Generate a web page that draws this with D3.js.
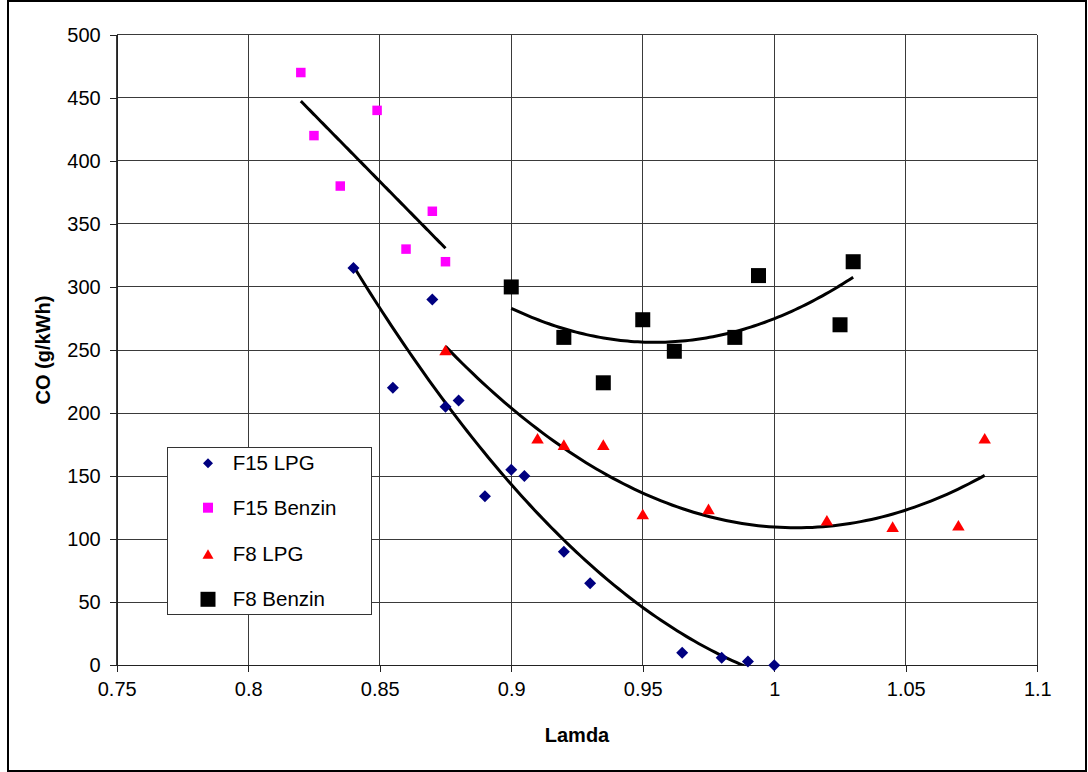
<!DOCTYPE html>
<html>
<head>
<meta charset="utf-8">
<script src="https://cdn.jsdelivr.net/npm/d3@7"></script>
<style>
  html, body { margin: 0; padding: 0; background: #fff; }
  svg { display: block; }
  text { font-family: "Liberation Sans", Arial, sans-serif; fill: #000; }
</style>
</head>
<body>
<svg id="chart" width="1088" height="772"></svg>
<script>
// Measured CO emission (g/kWh) against excess-air ratio (lambda)
const lamdaF15LPG    = [0.84, 0.855, 0.87, 0.875, 0.88, 0.89, 0.9, 0.905, 0.92, 0.93, 0.965, 0.98, 0.99, 1.0];
const coF15LPG       = [315, 220, 290, 205, 210, 134, 155, 150, 90, 65, 10, 6, 3, 0];

const lamdaF15Benzin = [0.82, 0.825, 0.835, 0.849, 0.86, 0.87, 0.875];
const coF15Benzin    = [470, 420, 380, 440, 330, 360, 320];

const lamdaF8LPG     = [0.875, 0.91, 0.92, 0.935, 0.95, 0.975, 1.02, 1.045, 1.07, 1.08];
const coF8LPG        = [250, 180, 175, 175, 120, 124, 115, 110, 111, 180];

const lamdaF8Benzin  = [0.9, 0.92, 0.935, 0.95, 0.962, 0.985, 0.994, 1.025, 1.03];
const coF8Benzin     = [300, 260, 224, 274, 249, 260, 309, 270, 320];

const seriesNames  = ["F15 LPG", "F15 Benzin", "F8 LPG", "F8 Benzin"];
const xTickValues  = [0.75, 0.8, 0.85, 0.9, 0.95, 1, 1.05, 1.1];
const yTickValues  = [0, 50, 100, 150, 200, 250, 300, 350, 400, 450, 500];
const xTitle = "Lamda";
const yTitle = "CO (g/kWh)";

const series = [
  { name: seriesNames[0], xs: lamdaF15LPG,    ys: coF15LPG,    shape: "diamond",  color: "#000080", size: 12, legSize: 10, order: 2 },
  { name: seriesNames[1], xs: lamdaF15Benzin, ys: coF15Benzin, shape: "square",   color: "#ff00ff", size: 9.5, legSize: 10, order: 1 },
  { name: seriesNames[2], xs: lamdaF8LPG,     ys: coF8LPG,     shape: "triangle", color: "#ff0000", size: 12.5, legSize: 11, order: 2 },
  { name: seriesNames[3], xs: lamdaF8Benzin,  ys: coF8Benzin,  shape: "square",   color: "#000000", size: 15, legSize: 15, order: 2 }
];

const svg = d3.select("#chart");
const plot = { left: 116.7, right: 1037.3, top: 34.7, bottom: 665.3 };

const x = d3.scaleLinear().domain([0.75, 1.1]).range([plot.left, plot.right]);
const y = d3.scaleLinear().domain([0, 500]).range([plot.bottom, plot.top]);

// outer frame
svg.append("rect")
  .attr("x", 8).attr("y", 1).attr("width", 1078).attr("height", 770)
  .attr("fill", "#fff").attr("stroke", "#000").attr("stroke-width", 2);

// gridlines
const grid = svg.append("g").attr("stroke", "#3a3a3a").attr("stroke-width", 1).attr("shape-rendering", "crispEdges");
grid.selectAll("line.h").data(yTickValues).join("line")
  .attr("x1", plot.left).attr("x2", plot.right)
  .attr("y1", d => y(d)).attr("y2", d => y(d));
grid.selectAll("line.v").data(xTickValues).join("line")
  .attr("y1", plot.top).attr("y2", plot.bottom)
  .attr("x1", d => x(d)).attr("x2", d => x(d));

// axes
const xAxis = d3.axisBottom(x).tickValues(xTickValues).tickSizeInner(7).tickSizeOuter(0).tickPadding(10)
  .tickFormat(d => String(+d.toFixed(2)));
const yAxis = d3.axisLeft(y).tickValues(yTickValues).tickSizeInner(7).tickSizeOuter(0).tickPadding(9)
  .tickFormat(d => String(d));

const gx = svg.append("g").attr("transform", `translate(0,${plot.bottom})`).call(xAxis);
const gy = svg.append("g").attr("transform", `translate(${plot.left},0)`).call(yAxis);
[gx, gy].forEach(g => {
  g.select(".domain").attr("stroke", "#222").attr("shape-rendering", "crispEdges");
  g.selectAll(".tick line").attr("stroke", "#222").attr("shape-rendering", "crispEdges");
  g.selectAll(".tick text").attr("font-size", 20).attr("font-family", "Liberation Sans, Arial, sans-serif").attr("fill", "#000");
});

// axis titles
svg.append("text").attr("x", (plot.left + plot.right) / 2).attr("y", 742)
  .attr("text-anchor", "middle").attr("font-weight", "bold").attr("font-size", 20).text(xTitle);
svg.append("text")
  .attr("transform", `translate(50,${(plot.top + plot.bottom) / 2}) rotate(-90)`)
  .attr("text-anchor", "middle").attr("font-weight", "bold").attr("font-size", 20).text(yTitle);

// least-squares polynomial trendline coefficients
function polyFit(xs, ys, order) {
  const n = order + 1;
  const m = d3.mean(xs);
  const A = Array.from({ length: n }, () => new Array(n + 1).fill(0));
  xs.forEach((xv, i) => {
    const t = xv - m;
    for (let r = 0; r < n; r++) {
      for (let c = 0; c < n; c++) A[r][c] += Math.pow(t, r + c);
      A[r][n] += ys[i] * Math.pow(t, r);
    }
  });
  for (let p = 0; p < n; p++) {
    let best = p;
    for (let r = p + 1; r < n; r++) if (Math.abs(A[r][p]) > Math.abs(A[best][p])) best = r;
    [A[p], A[best]] = [A[best], A[p]];
    for (let r = 0; r < n; r++) {
      if (r === p) continue;
      const f = A[r][p] / A[p][p];
      for (let c = p; c <= n; c++) A[r][c] -= f * A[p][c];
    }
  }
  const coef = A.map((row, i) => row[n] / row[i]);
  return xv => coef.reduce((s, c, i) => s + c * Math.pow(xv - m, i), 0);
}

svg.append("clipPath").attr("id", "plotClip").append("rect")
  .attr("x", plot.left).attr("y", plot.top)
  .attr("width", plot.right - plot.left).attr("height", plot.bottom - plot.top);

const trends = svg.append("g").attr("clip-path", "url(#plotClip)");
const line = d3.line().x(d => x(d[0])).y(d => y(d[1]));
series.forEach(s => {
  const f = polyFit(s.xs, s.ys, s.order);
  const [lo, hi] = d3.extent(s.xs);
  const pts = d3.range(0, 101).map(i => { const xv = lo + (hi - lo) * i / 100; return [xv, f(xv)]; });
  trends.append("path").attr("d", line(pts))
    .attr("fill", "none").attr("stroke", "#000").attr("stroke-width", 3)
    .attr("stroke-linejoin", "round");
});

// marker shapes
function markerPath(shape, size) {
  const h = size / 2;
  if (shape === "diamond") return `M0,${-h}L${h},0L0,${h}L${-h},0Z`;
  if (shape === "triangle") { const th = size * 0.85; return `M0,${-th / 2}L${h},${th / 2}L${-h},${th / 2}Z`; }
  return `M${-h},${-h}H${h}V${h}H${-h}Z`;
}

series.forEach(s => {
  svg.append("g").selectAll("path").data(s.xs.map((xv, i) => [xv, s.ys[i]])).join("path")
    .attr("transform", d => `translate(${x(d[0])},${y(d[1])})`)
    .attr("d", markerPath(s.shape, s.size))
    .attr("fill", s.color);
});

// legend
const leg = svg.append("g");
leg.append("rect").attr("x", 167.5).attr("y", 447.5).attr("width", 204).attr("height", 167)
  .attr("fill", "#fff").attr("stroke", "#333").attr("stroke-width", 1);
const legRows = [463.3, 507.7, 554, 599.3];
series.forEach((s, i) => {
  leg.append("path").attr("transform", `translate(208,${legRows[i]})`)
    .attr("d", markerPath(s.shape, s.legSize)).attr("fill", s.color);
  leg.append("text").attr("x", 232.7).attr("y", legRows[i] + 7)
    .attr("font-size", 20.5).text(s.name);
});
</script>
</body>
</html>
